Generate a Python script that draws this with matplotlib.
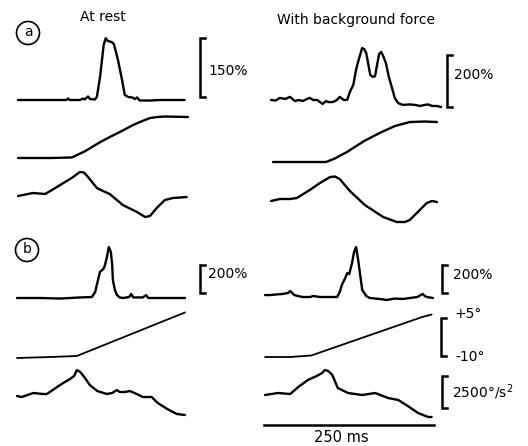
import numpy as np
import matplotlib.pyplot as plt
from matplotlib.patches import Circle

# ---- dados (tempo em ms desde o inicio do traco) ----
# painel a, em repouso
a_rest_emg_t = [0, 32, 71, 74, 76, 91, 96, 98, 103, 106, 113, 116, 121, 126, 129, 132, 138, 141,
                147, 153, 157, 162, 168, 172, 175, 179, 194, 209, 245]
a_rest_emg = [0, 0, 0, 3.8, 0, 0, 3.8, 1.3, 8.9, 2.5, 1.3, 7.6, 63, 140, 157, 150, 147, 142,
              102, 51, 13, 7.6, 6.4, 2.5, 6.4, -1.3, -1.3, 0, 0]  # %
a_rest_pos_t = [0, 47, 79, 87, 98, 121, 135, 150, 169, 179, 194, 205, 216, 250]
a_rest_pos = [-10, -10, -9.8, -8.8, -7.4, -3.7, -1.7, 0.3, 3.0, 4.2, 5.8, 6.2, 6.4, 6.2]  # graus
a_rest_acc_t = [0, 22, 40, 50, 62, 79, 91, 97, 103, 116, 125, 135, 154, 175, 187, 194, 204, 216, 228, 248]
a_rest_acc = [-78, 156, 78, 390, 780, 1326, 1794, 1755, 1404, 546, 312, 78, -780, -1326, -1716,
              -1638, -1014, -390, -234, -156]  # graus/s^2

# painel a, com forca de fundo
a_bg_emg_t = [0, 7, 13, 21, 28, 35, 41, 47, 53, 57, 62, 68, 72, 76, 81, 84, 91, 97, 101, 107, 112,
              116, 121, 125, 128, 131, 134, 137, 140, 143, 146, 150, 153, 156, 159, 162, 165, 169,
              173, 178, 182, 187, 194, 204, 212, 219, 226, 231, 237, 244, 250]
a_bg_emg = [27, 25, 35, 31, 39, 23, 27, 23, 31, 35, 27, 27, 19, 12, 23, 19, 19, 27, 39, 27, 27,
            58, 85, 142, 173, 200, 227, 223, 208, 166, 123, 116, 119, 162, 204, 212, 196, 169,
            119, 73, 35, 15, 8, 10, 8, 4, 8, 10, 4, 4, 0]
a_bg_pos_t = [3, 43, 81, 94, 112, 137, 160, 182, 204, 226, 244]
a_bg_pos = [-10, -10, -10, -8.6, -6.0, -1.7, 1.5, 4.2, 5.8, 6.0, 5.8]
a_bg_acc_t = [0, 13, 28, 38, 57, 72, 87, 94, 101, 116, 138, 165, 185, 197, 204, 216, 229, 237, 244]
a_bg_acc = [-78, 78, 78, 156, 780, 1326, 1794, 1833, 1638, 702, -390, -1326, -1716, -1716,
            -1560, -936, -234, -78, -156]

# painel b, em repouso
b_rest_emg_t = [0, 34, 63, 93, 110, 115, 118, 122, 127, 129, 132, 135, 138, 140, 141, 144, 147,
                151, 156, 165, 168, 171, 185, 190, 193, 210, 247]
b_rest_emg = [0, 0, -4, 4, 7, 43, 107, 186, 207, 229, 286, 364, 329, 236, 129, 57, 21,
              4, 0, 7, 29, 4, 4, 21, 0, 0, 0]
b_rest_pos_t = [0, 49, 88, 247]
b_rest_pos = [-10.4, -10, -9.6, 7.6]
b_rest_acc_t = [0, 7, 24, 38, 44, 59, 68, 78, 84, 88, 93, 100, 107, 118, 132, 140, 147, 151, 159,
                166, 176, 185, 198, 207, 221, 235, 247]
b_rest_acc = [-78, -156, 156, 78, 78, 624, 936, 1248, 1482, 1950, 1794, 1326, 780, 312, 78, 156,
              390, 234, 234, 312, 78, -156, -156, -624, -1092, -1482, -1560]

# painel b, com forca de fundo
b_bg_emg_t = [0, 7, 26, 34, 37, 40, 43, 51, 56, 66, 71, 81, 106, 110, 113, 118, 121, 124, 125,
              128, 131, 134, 137, 140, 143, 149, 154, 169, 179, 191, 203, 213, 224, 229, 232,
              235, 238, 247]
b_bg_emg = [21, 21, 29, 36, 50, 36, 21, 11, 7, 7, 14, 7, 7, 43, 93, 143, 179, 171, 193,
            250, 329, 364, 271, 164, 57, 14, 0, -7, -14, -4, -7, 0, 7, 21, 29, 14, 7, 0]
b_bg_pos_t = [0, 37, 68, 231, 245]
b_bg_pos = [-10.4, -10.4, -9.8, 5.4, 6.4]
b_bg_acc_t = [0, 19, 37, 49, 63, 76, 84, 88, 93, 99, 107, 122, 143, 162, 181, 196, 210, 225, 240, 245]
b_bg_acc = [0, 156, 78, 624, 1170, 1482, 1716, 1950, 1872, 1560, 546, 156, 0, 156, -234, -390,
            -858, -1404, -1716, -1716]

col_titles = ["At rest", "With background force"]
panel_labels = ["a", "b"]

# ---- layout (pixels) ----
px_ms = 0.68  # 250 ms = 170 px
esc_emg_a_rest = 1 / 2.54
esc_emg_a_bg = 1 / 3.85
esc_emg_b = 1 / 7.14
esc_pos = 2.53
esc_acc = 1 / 78.0

fig = plt.figure(figsize=(5.28, 4.46), dpi=100)
ax = fig.add_axes([0, 0, 1, 1])
ax.set_xlim(0, 528)
ax.set_ylim(446, 0)
ax.axis('off')


def traco(t, v, x0, y0, esc, lw=1.7, ref=0.0):
    t = np.asarray(t, dtype=float)
    v = np.asarray(v, dtype=float)
    ax.plot(x0 + t * px_ms, y0 - (v - ref) * esc, color='black', lw=lw,
            solid_joinstyle='round', solid_capstyle='round')


def barra(x, y_baixo, altura, texto=None, tx=None, ty=None):
    ax.plot([x + 5, x, x, x + 5], [y_baixo, y_baixo, y_baixo - altura, y_baixo - altura],
            color='black', lw=1.8, solid_joinstyle='miter')
    if texto:
        ax.text(tx, ty, texto, fontsize=10, ha='left', va='center')


# painel a
traco(a_rest_emg_t, a_rest_emg, 18, 100, esc_emg_a_rest)
traco(a_rest_pos_t, a_rest_pos, 18, 158, esc_pos, ref=-10)
traco(a_rest_acc_t, a_rest_acc, 18, 195, esc_acc)
traco(a_bg_emg_t, a_bg_emg, 271, 107, esc_emg_a_bg)
traco(a_bg_pos_t, a_bg_pos, 271, 162, esc_pos, ref=-10)
traco(a_bg_acc_t, a_bg_acc, 271, 200, esc_acc)

# painel b
traco(b_rest_emg_t, b_rest_emg, 17, 298, esc_emg_b)
traco(b_rest_pos_t, b_rest_pos, 17, 357, esc_pos, lw=1.3, ref=-10)
traco(b_rest_acc_t, b_rest_acc, 17, 395, esc_acc)
traco(b_bg_emg_t, b_bg_emg, 265, 298, esc_emg_b)
traco(b_bg_pos_t, b_bg_pos, 265, 356, esc_pos, lw=1.3, ref=-10)
traco(b_bg_acc_t, b_bg_acc, 265, 395, esc_acc)

# barras de escala
barra(200, 97, 150 * esc_emg_a_rest, "150%", 208, 71)
barra(447, 107, 200 * esc_emg_a_bg, "200%", 454, 75)
barra(200, 293, 200 * esc_emg_b, "200%", 208, 274)
barra(442, 293, 200 * esc_emg_b, "200%", 453, 275)
barra(441, 356, 15 * esc_pos)
ax.text(455, 314, "+5°", fontsize=10, ha='left', va='center')
ax.text(455, 357, "-10°", fontsize=10, ha='left', va='center')
barra(442, 408, 2500 * esc_acc, r"2500°/s$^2$", 452, 392)

# barra de tempo
ax.plot([264, 264 + 250 * px_ms], [425, 425], color='black', lw=1.8)
ax.text(341, 437, "250 ms", fontsize=10.5, ha='center', va='center')

# titulos e letras
ax.text(103, 17, col_titles[0], fontsize=10, ha='center', va='center')
ax.text(356, 20, col_titles[1], fontsize=10, ha='center', va='center')
for (cx, cy), letra in zip([(28, 33), (27, 250)], panel_labels):
    ax.add_patch(Circle((cx, cy), 11.5, fill=False, lw=1.2, color='black'))
    ax.text(cx, cy - 1, letra, fontsize=10, ha='center', va='center')

fig.savefig("out.png", dpi=100)
